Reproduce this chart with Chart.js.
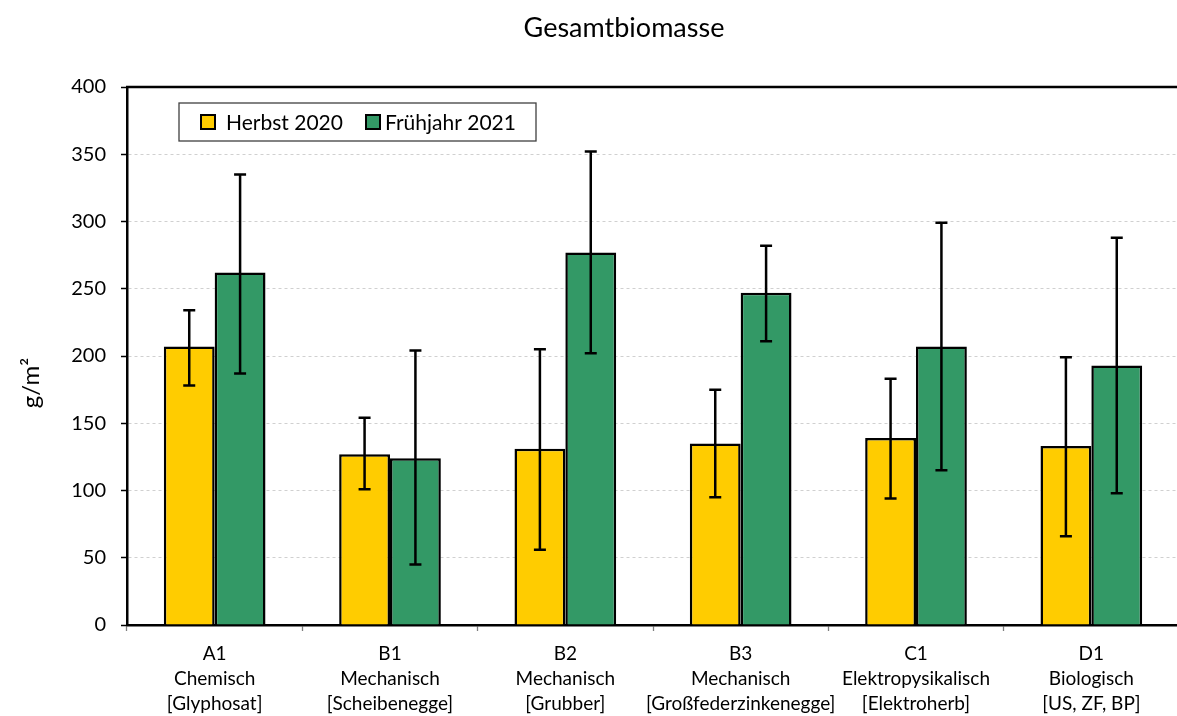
<!DOCTYPE html>
<html>
<head>
<meta charset="utf-8">
<script src="https://cdn.jsdelivr.net/npm/chart.js@4.4.1/dist/chart.umd.min.js"></script>
<style>
  html, body { margin: 0; padding: 0; background: #fff; overflow: hidden; }
  #wrap { width: 1244px; height: 716px; }
</style>
</head>
<body>
<div id="wrap"><canvas id="chart" width="1244" height="716"></canvas></div>
<script>
// ── Data ──────────────────────────────────────────────────────────────────────
const categories = [
    ['A1', 'Chemisch', '[Glyphosat]'],
    ['B1', 'Mechanisch', '[Scheibenegge]'],
    ['B2', 'Mechanisch', '[Grubber]'],
    ['B3', 'Mechanisch', '[Großfederzinkenegge]'],
    ['C1', 'Elektropysikalisch', '[Elektroherb]'],
    ['D1', 'Biologisch', '[US, ZF, BP]'],
];
const seriesNames = ['Herbst 2020', 'Frühjahr 2021'];
const herbst = [207, 127, 131, 135, 139, 133];
const fruehjahr = [262, 124, 277, 247, 207, 193];
const herbstErrLow = [178, 101, 56, 95, 94, 66];
const herbstErrHigh = [234, 154, 205, 175, 183, 199];
const fruehjahrErrLow = [187, 45, 202, 211, 115, 98];
const fruehjahrErrHigh = [335, 204, 352, 282, 299, 288];
const yTicks = [0, 50, 100, 150, 200, 250, 300, 350, 400];

const chartTitle = 'Gesamtbiomasse';
const yTitle = 'g/m²';
const FONT = 'Lato, "Open Sans", sans-serif';
const colors = ['#FFCC00', '#339966'];

// ── Plugins ───────────────────────────────────────────────────────────────────

const errorBarPlugin = {
    id: 'errorBars',
    afterDatasetsDraw(chart) {
        const { ctx } = chart;
        const y = chart.scales.y;
        const ranges = [[herbstErrLow, herbstErrHigh], [fruehjahrErrLow, fruehjahrErrHigh]];
        ctx.save();
        ctx.strokeStyle = '#000';
        ctx.lineWidth = 2.5;
        ranges.forEach(([lo, hi], di) => {
            chart.getDatasetMeta(di).data.forEach((bar, i) => {
                const x = bar.x;
                const yLo = y.getPixelForValue(lo[i]);
                const yHi = y.getPixelForValue(hi[i]);
                ctx.beginPath();
                ctx.moveTo(x, yLo); ctx.lineTo(x, yHi);
                ctx.moveTo(x - 6, yLo); ctx.lineTo(x + 6, yLo);
                ctx.moveTo(x - 6, yHi); ctx.lineTo(x + 6, yHi);
                ctx.stroke();
            });
        });
        ctx.restore();
    },
};

const decorPlugin = {
    id: 'decor',
    afterDraw(chart) {
        const { ctx, chartArea } = chart;
        ctx.save();

        // top frame line
        ctx.strokeStyle = '#000';
        ctx.lineWidth = 2.5;
        ctx.beginPath();
        ctx.moveTo(chartArea.left - 1, chartArea.top);
        ctx.lineTo(chartArea.right + 40, chartArea.top);
        ctx.stroke();

        // title
        ctx.fillStyle = '#000';
        ctx.font = `27px ${FONT}`;
        ctx.textAlign = 'center';
        ctx.textBaseline = 'middle';
        ctx.fillText(chartTitle, 624, 28);

        // y axis title
        ctx.save();
        ctx.translate(31, 383);
        ctx.rotate(-Math.PI / 2);
        ctx.font = `24px ${FONT}`;
        ctx.fillText(yTitle, 0, 0);
        ctx.restore();

        // legend
        ctx.fillStyle = '#fff';
        ctx.fillRect(179, 103, 357, 38);
        ctx.strokeStyle = '#404040';
        ctx.lineWidth = 1.3;
        ctx.strokeRect(179, 103, 357, 38);
        const items = [{ x: 201, tx: 226 }, { x: 366, tx: 385 }];
        ctx.font = `21px ${FONT}`;
        ctx.textAlign = 'left';
        items.forEach((it, i) => {
            ctx.fillStyle = chart.data.datasets[i].backgroundColor;
            ctx.fillRect(it.x, 115, 14, 14);
            ctx.strokeStyle = '#000';
            ctx.lineWidth = 2;
            ctx.strokeRect(it.x, 115, 14, 14);
            ctx.fillStyle = '#000';
            ctx.fillText(chart.data.datasets[i].label, it.tx, 123);
        });

        ctx.restore();
    },
};

// ── Chart ─────────────────────────────────────────────────────────────────────

new Chart(document.getElementById('chart'), {
    type: 'bar',
    data: {
        labels: categories,
        datasets: [
            { label: seriesNames[0], data: herbst, backgroundColor: colors[0] },
            { label: seriesNames[1], data: fruehjahr, backgroundColor: colors[1] },
        ].map((d) => ({ ...d, borderColor: '#000', borderWidth: 2.5, categoryPercentage: 0.58, barPercentage: 1.0 })),
    },
    options: {
        responsive: false,
        animation: false,
        layout: { padding: { left: 0, top: 87, right: 65, bottom: 0 } },
        plugins: {
            legend: { display: false },
            title: { display: false },
            tooltip: { enabled: false },
        },
        scales: {
            x: {
                offset: true,
                grid: {
                    offset: true,
                    drawOnChartArea: false,
                    drawTicks: true,
                    tickLength: 6,
                    tickColor: '#7f7f7f',
                    tickWidth: 1.3,
                },
                border: { color: '#000', width: 2.5 },
                ticks: {
                    color: '#000',
                    padding: 11,
                    maxRotation: 0,
                    autoSkip: false,
                    font: { family: FONT, size: 19, lineHeight: 1.3 },
                },
                afterFit(scale) { scale.height = 91; },
            },
            y: {
                min: 0,
                max: 400,
                afterBuildTicks(scale) { scale.ticks = yTicks.map((v) => ({ value: v })); },
                grid: {
                    color: '#d0d0d0',
                    lineWidth: 1,
                    drawTicks: true,
                    tickLength: 6,
                    tickColor: '#000',
                    tickWidth: 1.5,
                    tickBorderDash: [],
                },
                border: { color: '#000', width: 2.5, dash: [3, 3] },
                ticks: {
                    color: '#000',
                    padding: 15,
                    font: { family: FONT, size: 20 },
                },
                afterFit(scale) { scale.width = 127; },
            },
        },
    },
    plugins: [errorBarPlugin, decorPlugin],
});
</script>
</body>
</html>
